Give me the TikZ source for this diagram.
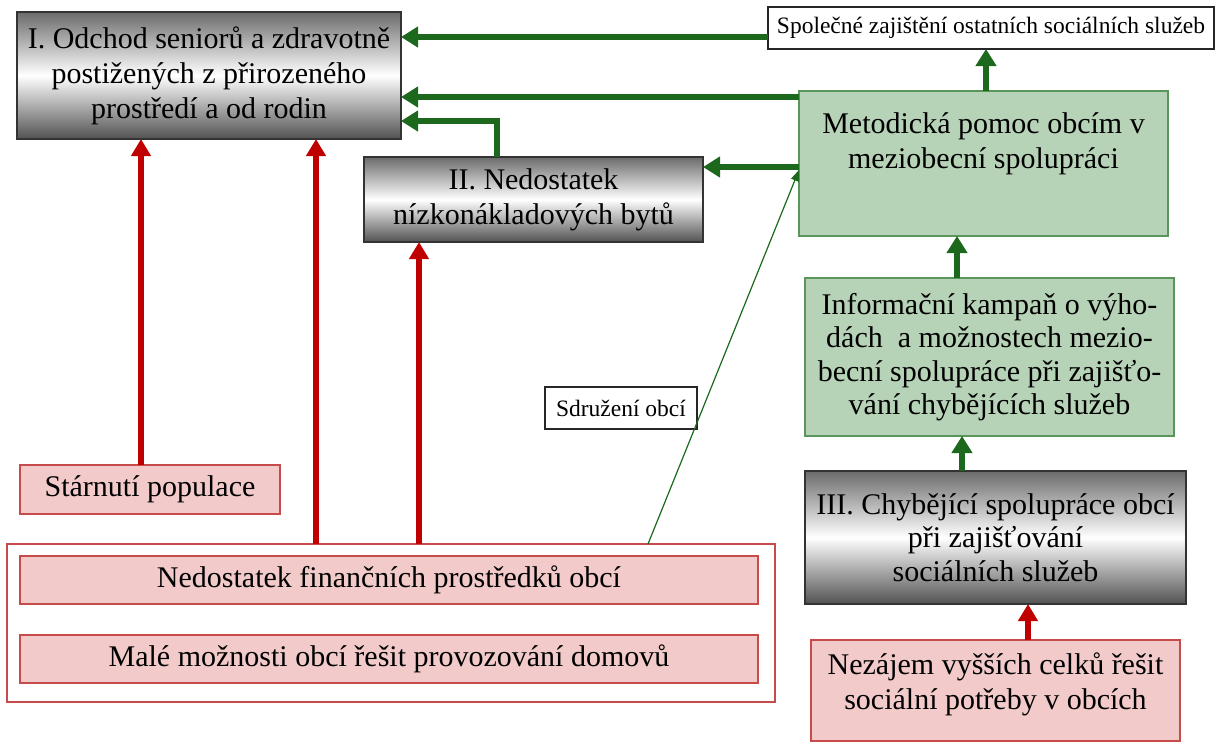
\documentclass[tikz,border=0pt]{standalone}
\usepackage{fontspec}
\setmainfont{Liberation Serif}
\usetikzlibrary{arrows.meta}
\definecolor{arrred}{RGB}{192,0,0}
\definecolor{arrgreen}{RGB}{28,104,28}
\definecolor{gfill}{RGB}{183,211,183}
\definecolor{gline}{RGB}{90,150,90}
\definecolor{pfill}{RGB}{242,202,202}
\definecolor{pline}{RGB}{200,75,75}
\tikzset{
  base/.style={draw, inner sep=0pt, outer sep=0pt, align=center, line width=1.2pt, font=\fontsize{30}{35}\selectfont},
  graybox/.style={base, draw=black!80, top color=black!58, bottom color=black!68, middle color=white},
  greenbox/.style={base, draw=gline, fill=gfill},
  pinkbox/.style={base, draw=pline, fill=pfill},
  whitebox/.style={base, draw=black!85, fill=white, font=\fontsize{23.5}{28}\selectfont},
  txt/.style={inner sep=0pt, align=center, font=\fontsize{30}{35}\selectfont},
  garr/.style={draw=arrgreen, line width=6.5pt, -{Triangle[width=20pt,length=17pt]}},
  rarr/.style={draw=arrred, line width=6pt, -{Triangle[width=19pt,length=17pt]}},
  thinarr/.style={draw=arrgreen, line width=1.2pt, -{Triangle[width=8pt,length=11pt]}},
}
\begin{document}
\begin{tikzpicture}[x=1pt,y=-1pt]
\useasboundingbox[fill=white] (0,0) rectangle (1217,747);

% boxes
\node[graybox, minimum width=384pt, minimum height=127pt] (I) at (209,75.5)
  {I. Odchod seniorů a zdravotně\\postižených z přirozeného\\prostředí a od rodin};
\node[whitebox, minimum width=446pt, minimum height=42pt] (spol) at (991,28)
  {Společné zajištění ostatních sociálních služeb};
\node[greenbox, minimum width=369pt, minimum height=145pt] (metod) at (983.5,163.5) {};
\node[txt] (metodt) at ([yshift=20pt]metod.center) {Metodická pomoc obcím v\\meziobecní spolupráci};
\node[graybox, minimum width=339pt, minimum height=85pt] (II) at (533.5,199.5)
  {II. Nedostatek\\nízkonákladových bytů};
\node[greenbox, minimum width=369pt, minimum height=158pt, font=\fontsize{30}{33.5}\selectfont] (info) at (989.5,357)
  {Informační kampaň o výho-\\dách\ \ a možnostech mezio-\\becní spolupráce při zajišťo-\\vání chybějících služeb};
\node[graybox, minimum width=381pt, minimum height=133pt, font=\fontsize{30}{33.5}\selectfont] (III) at (995.5,537.5)
  {III. Chybějící spolupráce obcí\\při zajišťování\\sociálních služeb};
\node[pinkbox, minimum width=369pt, minimum height=101pt] (nez) at (995.5,690.5) {};
\node[txt] (nezt) at ([yshift=6pt]nez.center) {Nezájem vyšších celků řešit\\sociální potřeby v obcích};
\node[pinkbox, minimum width=260pt, minimum height=49pt] (star) at (150,489.5) {Stárnutí populace};
\node[base, draw=pline, fill=white, minimum width=768pt, minimum height=158pt] (cont) at (391,623) {};
\node[pinkbox, minimum width=738pt, minimum height=48pt] (fin) at (389,580) {Nedostatek finančních prostředků obcí};
\node[pinkbox, minimum width=738pt, minimum height=48pt] (male) at (389,659) {Malé možnosti obcí řešit provozování domovů};
\node[whitebox, minimum width=152pt, minimum height=42pt] (sdr) at (621,408) {Sdružení obcí};

% connector anchors
\coordinate (s1) at ([yshift=-9pt]spol.west);
\coordinate (s2) at ([yshift=66.5pt]metod.west);
\coordinate (s3) at ([yshift=-3.5pt]metod.west);
\coordinate (s4) at ([xshift=-36.5pt]II.north);
\coordinate (t4) at ([yshift=-45.5pt]I.east);
\coordinate (s5) at ([xshift=2.5pt]metod.north);
\coordinate (s6) at ([xshift=-32.5pt]info.north);
\coordinate (s7) at ([xshift=-33.5pt]III.north);
\coordinate (s8) at ([xshift=32.5pt]nez.north);
\coordinate (s9) at ([xshift=-9pt]star.north);
\coordinate (s10) at ([xshift=-75pt]cont.north);
\coordinate (s11) at ([xshift=28pt]cont.north);
\coordinate (s12) at ([xshift=257pt]cont.north);
\coordinate (t12) at ([yshift=-6.5pt]metod.west);

% green connectors
\draw[garr] (s1) -- (s1 -| I.east);
\draw[garr] (s2) -- (s2 -| I.east);
\draw[garr] (s3) -- (s3 -| II.east);
\draw[garr] (s4) |- (t4);
\draw[garr] (s5) -- (s5 |- spol.south);
\draw[garr] (s6) -- (s6 |- metod.south);
\draw[garr] (s7) -- (s7 |- info.south);
\draw[thinarr] (s12) -- (t12);

% red connectors
\draw[rarr] (s8) -- (s8 |- III.south);
\draw[rarr] (s9) -- (s9 |- I.south);
\draw[rarr] (s10) -- (s10 |- I.south);
\draw[rarr] (s11) -- (s11 |- II.south);
\end{tikzpicture}
\end{document}
